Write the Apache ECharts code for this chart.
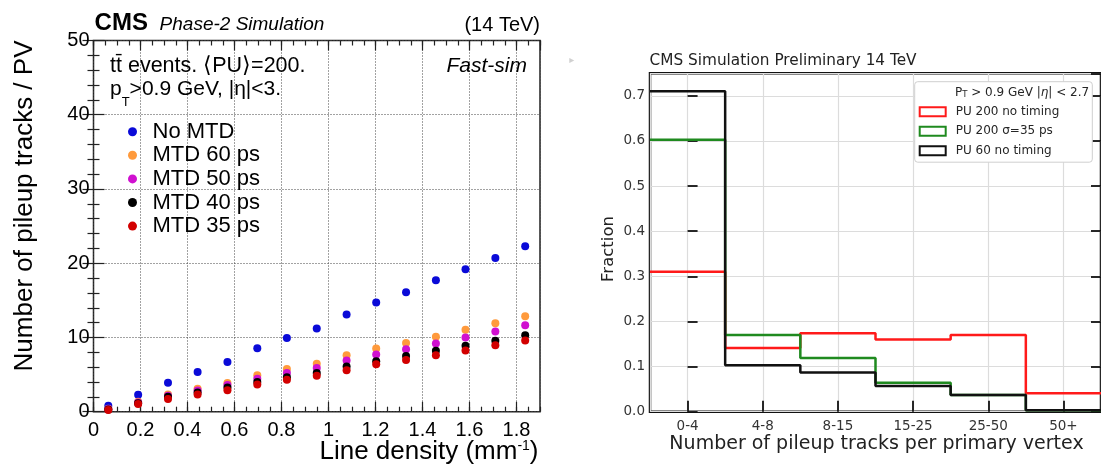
<!DOCTYPE html>
<html>
<head>
<meta charset="utf-8">
<script src="https://cdn.jsdelivr.net/npm/echarts@6/dist/echarts.min.js"></script>
<style>
  html, body { margin: 0; padding: 0; background: #fff; }
  #chart { width: 1101px; height: 467px; }
</style>
</head>
<body>
<div id="chart"></div>
<script>
// Left panel: pileup tracks per primary vertex vs. line density
const lineDensity = [0.063, 0.19, 0.317, 0.443, 0.57, 0.697, 0.823, 0.95, 1.077, 1.203, 1.33, 1.457, 1.583, 1.71, 1.837];
const noMTD   = [0.81, 2.29, 3.9, 5.35, 6.7, 8.55, 9.93, 11.2, 13.1, 14.7, 16.1, 17.7, 19.2, 20.7, 22.3];
const mtd60ps = [0.4, 1.35, 2.3, 3.1, 3.85, 4.9, 5.75, 6.45, 7.6, 8.5, 9.25, 10.1, 11.05, 11.9, 12.85];
const mtd50ps = [0.35, 1.25, 2.15, 2.85, 3.6, 4.45, 5.2, 5.9, 6.9, 7.7, 8.4, 9.2, 10.0, 10.8, 11.65];
const mtd40ps = [0.3, 1.15, 2.0, 2.6, 3.25, 4.0, 4.65, 5.2, 6.1, 6.8, 7.5, 8.2, 8.9, 9.55, 10.3];
const mtd35ps = [0.23, 1.04, 1.7, 2.3, 2.9, 3.65, 4.3, 4.85, 5.6, 6.4, 6.95, 7.6, 8.25, 8.95, 9.6];

// Right panel: fraction of primary vertices per bin of pileup tracks
const trackBins = ['0-4', '4-8', '8-15', '15-25', '25-50', '50+'];
const pu200NoTiming = [0.310, 0.141, 0.174, 0.160, 0.170, 0.041];
const pu200Timing35 = [0.603, 0.170, 0.119, 0.064, 0.037, 0.003];
const pu60NoTiming  = [0.710, 0.103, 0.087, 0.057, 0.037, 0.003];

const leftFont = '"Liberation Sans", Arial, sans-serif';
const rightFont = '"DejaVu Sans", sans-serif';
const frameL = '#222';
const frameR = '#111';
const dottedGrid = { color: '#444', type: [1, 2], width: 1 };

// points of a scatter series
function pairs(ys) { return lineDensity.map((x, i) => [x, ys[i]]); }
// outline of a step histogram: bin i spans [i-0.5, i+0.5]
function steps(v) {
  const pts = v.map((y, i) => [i - 0.5, y]);
  pts.push([v.length - 0.5, v[v.length - 1]]);
  return pts;
}

function leftX(position, interval, tickLen, withLabels) {
  return {
    gridIndex: 0, type: 'value', position, min: 0, max: 1.9, interval,
    axisLine: { show: false },
    axisTick: { show: true, inside: true, length: tickLen, lineStyle: { color: frameL, width: 1.2 } },
    axisLabel: withLabels ? {
      show: true, fontFamily: leftFont, fontSize: 20, color: '#000', margin: 9,
      showMaxLabel: false
    } : { show: false },
    splitLine: withLabels ? { show: true, lineStyle: dottedGrid } : { show: false }
  };
}
function leftY(position, withLabels) {
  return {
    gridIndex: 0, type: 'value', position, min: 0, max: 50, interval: 10,
    axisLine: { show: false },
    axisTick: { show: true, inside: true, length: 11, lineStyle: { color: frameL, width: 1.2 } },
    minorTick: { show: true, splitNumber: 5, length: 6, lineStyle: { color: frameL, width: 1.2 } },
    axisLabel: withLabels ? { show: true, fontFamily: leftFont, fontSize: 20, color: '#000', margin: 4 } : { show: false },
    splitLine: withLabels ? { show: true, lineStyle: dottedGrid } : { show: false }
  };
}
function rightY(position, withLabels) {
  return {
    gridIndex: 1, type: 'value', position, min: 0, max: 0.75, interval: 0.1,
    axisLine: { show: false },
    axisTick: { show: true, inside: true, length: 10, lineStyle: { color: frameR, width: 1.8 } },
    axisLabel: withLabels ? {
      show: true, fontFamily: rightFont, fontSize: 13.5, color: '#333', margin: 5,
      showMaxLabel: false, formatter: v => v.toFixed(1)
    } : { show: false },
    splitLine: withLabels ? { show: true, lineStyle: { color: '#dcdcdc', width: 1.2 } } : { show: false }
  };
}

const scatterSeries = [
  ['No MTD', noMTD, '#0a0ad8'],
  ['MTD 60 ps', mtd60ps, '#ff9a3c'],
  ['MTD 50 ps', mtd50ps, '#d010d0'],
  ['MTD 40 ps', mtd40ps, '#000000'],
  ['MTD 35 ps', mtd35ps, '#d20000']
].map(([name, ys, color]) => ({
  name, type: 'scatter', xAxisIndex: 0, yAxisIndex: 0,
  data: pairs(ys), symbol: 'circle', symbolSize: 8,
  itemStyle: { color, opacity: 1 }, silent: true
}));

const histSeries = [
  ['PU 200 no timing', pu200NoTiming, '#ff1a1a'],
  ['PU 200 \u03c3=35 ps', pu200Timing35, '#1f8a1f'],
  ['PU 60 no timing', pu60NoTiming, '#111111']
].map(([name, v, color]) => ({
  name, type: 'line', xAxisIndex: 4, yAxisIndex: 2,
  data: steps(v), step: 'end', showSymbol: false, symbol: 'none',
  lineStyle: { color, width: 2.5 }, itemStyle: { color }, silent: true
}));

const option = {
  animation: false,
  backgroundColor: '#fff',
  grid: [
    { left: 93.5, top: 40.5, width: 446.5, height: 371.2, show: true,
      borderColor: frameL, borderWidth: 1.5, backgroundColor: 'transparent' },
    { left: 650, top: 73.3, width: 452, height: 338.4, show: true,
      borderColor: frameR, borderWidth: 2.5, backgroundColor: 'transparent' }
  ],
  xAxis: [
    leftX('bottom', 0.2, 10, true),
    leftX('bottom', 0.05, 5, false),
    leftX('top', 0.2, 10, false),
    leftX('top', 0.05, 5, false),
    {
      gridIndex: 1, type: 'value', position: 'bottom', min: -0.5, max: 5.5, splitNumber: 6,
      axisLine: { show: false },
      axisTick: { show: true, inside: true, length: 11, lineStyle: { color: frameR, width: 1.8 } },
      axisLabel: {
        show: true, fontFamily: rightFont, fontSize: 13.5, color: '#333', margin: 8,
        showMinLabel: false, showMaxLabel: false,
        formatter: v => (Number.isInteger(v) && trackBins[v] !== undefined) ? trackBins[v] : ''
      },
      splitLine: { show: true, lineStyle: { color: '#dcdcdc', width: 1.2 } }
    }
  ],
  yAxis: [
    leftY('left', true),
    leftY('right', false),
    rightY('left', true),
    rightY('right', false)
  ],
  legend: [
    {
      data: scatterSeries.map(s => s.name),
      orient: 'vertical', left: 128, top: 119.9, padding: 0,
      itemWidth: 30, itemHeight: 9, itemGap: 0, selectedMode: false,
      textStyle: { fontFamily: leftFont, fontSize: 22, color: '#000', lineHeight: 23.6 }
    },
    {
      data: histSeries.map(s => ({ name: s.name, icon: 'emptyRect' })),
      orient: 'vertical', left: 914.7, top: 81.7, padding: [22.5, 33, 4, 4],
      itemWidth: 26, itemHeight: 9, itemGap: 4.5, selectedMode: false, symbolKeepAspect: false,
      backgroundColor: '#fff', borderColor: '#cfcfcf', borderWidth: 1, borderRadius: 3,
      textStyle: { fontFamily: rightFont, fontSize: 12, color: '#262626', lineHeight: 15, padding: [0, 0, 0, 5] }
    }
  ],
  graphic: [
    { type: 'text', x: 94.6, y: 23.5, z: 100, style: { text: 'CMS', fontFamily: leftFont, fontWeight: 'bold', fontSize: 24, fill: '#000', verticalAlign: 'middle' } },
    { type: 'text', x: 159.6, y: 25, z: 100, style: { text: 'Phase-2 Simulation', fontFamily: leftFont, fontStyle: 'italic', fontSize: 19, fill: '#000', verticalAlign: 'middle' } },
    { type: 'text', x: 540, y: 25, z: 100, style: { text: '(14 TeV)', fontFamily: leftFont, fontSize: 20, fill: '#000', align: 'right', verticalAlign: 'middle' } },
    { type: 'text', x: 110, y: 66, z: 100, style: { text: 't\u0074\u0304 events. \u27e8PU\u27e9=200.', fontFamily: leftFont, fontSize: 21.5, fill: '#000', verticalAlign: 'middle' } },
    { type: 'text', x: 110, y: 89.5, z: 100, style: {
        text: 'p{sub|T}>0.9 GeV, |\u03b7|<3.', fontFamily: leftFont, fontSize: 21, fill: '#000', verticalAlign: 'middle',
        rich: { sub: { fontFamily: leftFont, fontSize: 13, fill: '#000', padding: [25, 0, 0, 0] } } } },
    { type: 'text', x: 527, y: 66, z: 100, style: { text: 'Fast-sim', fontFamily: leftFont, fontStyle: 'italic', fontSize: 21, fill: '#000', align: 'right', verticalAlign: 'middle' } },
    { type: 'text', x: 25, y: 40.5, z: 100, rotation: Math.PI / 2, style: { text: 'Number of pileup tracks / PV', fontFamily: leftFont, fontSize: 26, fill: '#000', align: 'right', verticalAlign: 'middle' } },
    { type: 'text', x: 538.5, y: 452, z: 100, style: {
        text: 'Line density (mm{sup|-1})', fontFamily: leftFont, fontSize: 26, fill: '#000', align: 'right', verticalAlign: 'middle',
        rich: { sup: { fontFamily: leftFont, fontSize: 14, fill: '#000', padding: [0, 0, 12, 0] } } } },

    { type: 'text', x: 571.7, y: 60.7, z: 100, style: { text: '\u25b8', fontFamily: rightFont, fontSize: 10, fill: '#d0d0d0', align: 'center', verticalAlign: 'middle' } },
    { type: 'text', x: 649.6, y: 61.3, z: 100, style: { text: 'CMS Simulation Preliminary 14 TeV', fontFamily: rightFont, fontSize: 15.3, fill: '#222', verticalAlign: 'middle' } },
    { type: 'text', x: 955, y: 92.7, z: 100, style: {
        text: 'P{sub|T} > 0.9 GeV |{it|\u03b7}| < 2.7', fontFamily: rightFont, fontSize: 12, fill: '#262626', verticalAlign: 'middle',
        rich: {
          sub: { fontFamily: rightFont, fontSize: 8.5, fill: '#262626', padding: [5, 0, 0, 0] },
          it: { fontFamily: rightFont, fontStyle: 'italic', fontSize: 12, fill: '#262626' }
        } } },
    { type: 'text', x: 608.5, y: 249, z: 100, rotation: Math.PI / 2, style: { text: 'Fraction', fontFamily: rightFont, fontSize: 16.5, fill: '#222', align: 'center', verticalAlign: 'middle' } },
    { type: 'text', x: 876.5, y: 444.5, z: 100, style: { text: 'Number of pileup tracks per primary vertex', fontFamily: rightFont, fontSize: 19, fill: '#222', align: 'center', verticalAlign: 'middle' } }
  ],
  series: [...scatterSeries, ...histSeries]
};

const chart = echarts.init(document.getElementById('chart'), null, { renderer: 'canvas' });
chart.setOption(option);
</script>
</body>
</html>
